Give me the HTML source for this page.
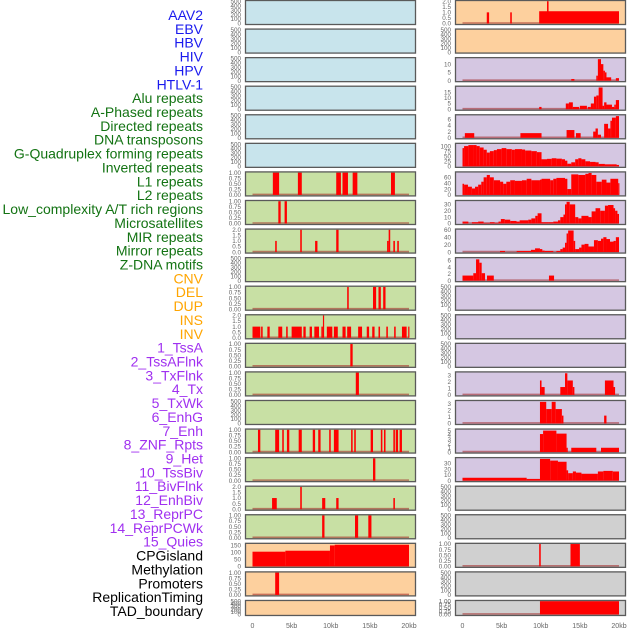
<!DOCTYPE html>
<html><head><meta charset="utf-8">
<style>
html,body{margin:0;padding:0;background:#fff;}
svg{display:block;font-family:"Liberation Sans",sans-serif;}
</style></head>
<body>
<svg id="chart" width="630" height="630" viewBox="0 0 630 630" xmlns="http://www.w3.org/2000/svg">
<g id="labels"></g>
<g id="panels"></g>
<g id="xaxes"></g>
</svg>
<script>
// ---- track labels ----
const trackNames = ["AAV2","EBV","HBV","HIV","HPV","HTLV-1","Alu repeats","A-Phased repeats","Directed repeats","DNA transposons","G-Quadruplex forming repeats","Inverted repeats","L1 repeats","L2 repeats","Low_complexity A/T rich regions","Microsatellites","MIR repeats","Mirror repeats","Z-DNA motifs","CNV","DEL","DUP","INS","INV","1_TssA","2_TssAFlnk","3_TxFlnk","4_Tx","5_TxWk","6_EnhG","7_Enh","8_ZNF_Rpts","9_Het","10_TssBiv","11_BivFlnk","12_EnhBiv","13_ReprPC","14_ReprPCWk","15_Quies","CPGisland","Methylation","Promoters","ReplicationTiming","TAD_boundary"];
const trackGroups = [6,13,5,15,5];
const groupColors = ["#1a1aee","#137313","#ffa500","#a030f0","#000000"];
const xTickVals = [0,5,10,15,20];
const xTickLabels = ["0","5kb","10kb","15kb","20kb"];

// ---- segment data [startKb, endKb, value] ----
const L7 = [[2.6,3.4,1],[5.8,6.3,1],[10.7,11.3,1],[11.5,12.2,1],[12.8,13.4,1],[17.7,18.2,1]];
const L8 = [[3.3,3.6,1],[4.1,4.4,1]];
const L9 = [[2.9,3.1,1],[6.1,6.3,2],[8.0,8.3,1],[10.7,11.0,2],[17.2,17.4,1],[17.4,17.6,2],[18.0,18.2,1],[18.5,18.7,1]];
const L11 = [[12.1,12.3,1],[15.4,15.8,1],[16.1,16.4,1],[16.7,17.0,1]];
const L12 = [[0,1.0,1],[1.1,1.3,1],[1.9,2.2,1],[3.3,3.8,1],[4.3,4.5,1],[5.0,6.3,1],[6.5,6.8,1],[7.3,7.6,1],[7.9,8.5,1],[8.8,9.0,1],[9.0,9.1,2],[9.5,10.2,1],[10.4,10.9,1],[11.5,11.9,1],[12.1,12.6,1],[13.5,14.0,1],[14.6,14.9,1],[15.3,15.6,1],[16.1,16.3,1],[17.1,17.3,1],[18.1,18.3,1],[19.1,19.7,1],[19.9,20.0,1]];
const L13 = [[12.5,12.8,1]];
const L14 = [[13.2,13.6,1]];
const L16 = [[0.7,1.0,1],[2.9,3.4,1],[3.8,4.0,1],[4.4,4.7,1],[5.9,6.3,1],[7.7,8.0,1],[8.4,8.7,1],[9.8,10.0,1],[10.4,11.0,1],[12.6,12.8,1],[13.0,13.2,1],[15.1,15.4,1],[16.4,16.6,1],[16.8,17.0,1],[18.0,18.2,1],[18.3,18.6,1],[18.8,19.1,1]];
const L17 = [[15.4,15.7,1]];
const L18 = [[2.5,3.1,1],[6.1,6.3,2],[8.9,9.3,1],[10.7,11.0,1],[18.0,18.2,1]];
const L19 = [[8.9,9.2,1],[13.1,13.5,1],[14.8,15.2,1]];
const L20 = [[0,4.2,105],[4.2,9.9,112],[9.9,10.5,150],[10.5,20.0,155]];
const L21 = [[2.9,3.4,1]];
const R1 = [[3.1,3.4,1],[6.1,6.3,1],[9.8,20.0,1.1],[10.8,11.0,2]];
const R3 = [[13.9,14.3,1],[17.1,17.3,3],[17.3,17.7,13],[17.7,18.0,10],[18.0,18.2,6],[18.2,18.4,5],[18.4,19.0,2],[19.6,20.0,1.5]];
const R4 = [[9.8,10.1,2],[13.2,13.6,5],[13.6,14.1,6],[14.1,14.9,2],[15.0,15.9,3],[16.0,16.4,2],[16.4,16.8,5],[16.8,17.1,11],[17.1,17.4,12],[17.4,17.9,19],[17.9,18.1,3],[18.1,18.4,6],[18.4,19.1,4],[19.1,19.4,2],[19.4,19.6,4],[19.6,20.0,8]];
const R5 = [[0.3,1.5,1.5],[7.4,10.1,1.5],[13.3,14.3,2.5],[14.5,15.1,1.5],[16.7,17.0,2],[17.0,17.3,3],[17.3,17.7,1],[18.1,18.6,4.5],[18.6,18.9,3],[18.9,19.1,5.5],[19.1,19.6,6.5],[19.6,20.0,7]];
const R9 = [[4.79,5.43,3],[6.92,8.75,3],[8.75,9.27,6],[9.27,9.9,10],[9.9,10.2,8],[10.2,10.5,4],[10.5,11.6,3],[12.0,12.5,3],[12.5,12.8,8],[12.8,13.1,12],[13.1,13.3,25],[13.3,13.5,50],[13.5,14.2,58],[14.2,14.4,30],[14.4,14.9,8],[14.9,15.2,12],[15.2,15.6,20],[15.6,16.1,22],[16.1,16.8,15],[16.8,17.3,32],[17.3,17.7,30],[17.7,18.0,36],[18.0,18.4,40],[18.4,18.85,35],[18.85,19.3,28],[19.3,19.6,30],[19.6,20.0,40]];
const R10 = [[0,1.38,1.5],[1.38,1.73,2.2],[1.73,2.15,6.3],[2.15,2.45,5.3],[2.45,2.88,2.2],[3.13,4.0,1.5],[11.05,11.7,1.5]];
const R14 = [[9.9,10.1,2.2],[10.1,10.5,1.2],[12.5,13.1,1.2],[13.1,13.4,3.3],[13.4,14.1,2.2],[14.1,14.3,1.2],[18.2,19.3,2.2],[19.3,19.5,1.2]];
const R15 = [[9.9,10.7,3.3],[10.7,11.4,2.2],[11.4,11.9,3.3],[11.9,12.7,2.2],[12.7,12.9,1.2],[18.1,18.4,1.2]];
const R16 = [[9.9,10.3,4.2],[10.3,12.0,5],[12.0,13.3,4.3],[13.3,13.4,1],[13.9,17.1,1],[17.7,20.0,1]];
const R17 = [[0,8.2,5],[8.2,9.9,3],[9.9,11.2,38],[11.2,12.2,35],[12.2,13.3,33],[13.3,13.5,18],[13.5,14.1,13],[14.1,14.5,16],[14.5,15.2,14],[15.2,17.3,12],[17.3,18.0,16],[18.0,19.2,17],[19.2,20.0,16]];
const R20 = [[9.8,10.0,1],[13.8,15.0,1]];
const R22 = [[9.9,20.0,1]];

// ---- step-series data [kb, value], each step runs to the next kb ----
const R6 = [[0,90],[0.2,100],[0.75,105],[1.4,105],[1.8,100],[2.2,93],[2.7,82],[3.1,68],[3.5,75],[4.0,80],[4.4,85],[5.0,90],[5.6,85],[6.3,82],[6.7,85],[7.6,83],[8.0,78],[8.8,75],[9.5,70],[9.9,70],[10.1,35],[10.8,37],[11.4,40],[12.0,38],[12.7,35],[13.1,28],[13.4,13],[13.9,20],[14.4,35],[14.8,40],[15.2,35],[15.7,25],[16.3,22],[17.0,20],[17.4,12],[18.2,10],[19.1,10],[19.7,7],[20.0,5]];
const R7 = [[0,38],[0.2,35],[0.7,28],[1.2,22],[1.6,28],[2.0,35],[2.4,45],[2.7,60],[3.1,68],[3.5,60],[4.0,50],[4.8,45],[5.2,38],[5.6,45],[6.1,50],[6.7,48],[7.6,50],[8.2,55],[8.8,50],[9.9,52],[10.1,55],[11.2,50],[11.6,55],[12.0,58],[13.1,55],[13.4,20],[13.9,70],[14.8,68],[15.7,72],[16.1,75],[16.5,68],[17.1,45],[17.8,52],[18.4,42],[18.9,55],[19.9,40],[20.0,40]];
const R8 = [[0,3],[0.75,0],[1.2,2],[2.0,3],[2.7,1],[3.5,2],[4.1,1],[4.6,3],[4.9,7],[5.4,6],[6.1,4],[6.9,3],[7.3,5],[8.4,6],[8.8,8],[9.3,12],[9.6,16],[10.1,2],[11.0,2],[11.6,3],[12.2,5],[12.5,10],[12.9,14],[13.1,30],[13.3,34],[13.7,30],[14.4,10],[14.8,8],[15.2,12],[16.1,10],[16.5,19],[17.0,24],[17.6,20],[18.2,28],[18.6,29],[19.3,24],[19.5,20],[19.8,15],[20.0,15]];

// ---- tick label sets ----
const t500Vals = [0,100,200,300,400,500], t500Labels = ["0","100","200","300","400","500"];
const t1Vals = [0,0.25,0.5,0.75,1], t1Labels = ["0.00","0.25","0.50","0.75","1.00"];
const t2Vals = [0,0.5,1,1.5,2], t2Labels = ["0.0","0.5","1.0","1.5","2.0"];

const BG = {blue:"#c8e4ec",green:"#c8e0a4",peach:"#fdd09e",purple:"#d5c7e2",grey:"#d0d0d0"};
// panel specs: column, row, background, y max, tick values, tick labels, segments, steps
const panels = [];
function P(col,row,bg,ymax,tv,tl,seg,step){panels.push({col,row,bg,ymax,tv,tl,seg,step});}
for(let r=0;r<6;r++) P(0,r,"blue",500,t500Vals,t500Labels,null,null);
P(0,6,"green",1,t1Vals,t1Labels,L7);
P(0,7,"green",1,t1Vals,t1Labels,L8);
P(0,8,"green",2,t2Vals,t2Labels,L9);
P(0,9,"green",500,t500Vals,t500Labels,null);
P(0,10,"green",1,t1Vals,t1Labels,L11);
P(0,11,"green",2,t2Vals,t2Labels,L12);
P(0,12,"green",1,t1Vals,t1Labels,L13);
P(0,13,"green",1,t1Vals,t1Labels,L14);
P(0,14,"green",500,t500Vals,t500Labels,null);
P(0,15,"green",1,t1Vals,t1Labels,L16);
P(0,16,"green",1,t1Vals,t1Labels,L17);
P(0,17,"green",2,t2Vals,t2Labels,L18);
P(0,18,"green",1,t1Vals,t1Labels,L19);
P(0,19,"peach",160,[0,50,100,150],["0","50","100","150"],L20);
P(0,20,"peach",1,t1Vals,t1Labels,L21);
P(0,21,"peach",500,t500Vals,t500Labels,null);
P(1,0,"peach",2,t2Vals,t2Labels,R1);
P(1,1,"peach",500,t500Vals,t500Labels,null);
P(1,2,"purple",13.5,[0,5,10],["0","5","10"],R3);
P(1,3,"purple",19.5,[0,5,10,15],["0","5","10","15"],R4);
P(1,4,"purple",7.2,[0,2,4,6],["0","2","4","6"],R5);
P(1,5,"purple",110,[0,25,50,75,100],["0","25","50","75","100"],null,R6);
P(1,6,"purple",76,[0,20,40,60],["0","20","40","60"],null,R7);
P(1,7,"purple",35,[0,10,20,30],["0","10","20","30"],null,R8);
P(1,8,"purple",60,[0,20,40,60],["0","20","40","60"],R9);
P(1,9,"purple",6.6,[0,2,4,6],["0","2","4","6"],R10);
P(1,10,"purple",500,t500Vals,t500Labels,null);
P(1,11,"purple",500,t500Vals,t500Labels,null);
P(1,12,"purple",500,t500Vals,t500Labels,null);
P(1,13,"purple",3.4,[0,1,2,3],["0","1","2","3"],R14);
P(1,14,"purple",3.4,[0,1,2,3],["0","1","2","3"],R15);
P(1,15,"purple",5.2,[0,1,2,3,4,5],["0","1","2","3","4","5"],R16);
P(1,16,"purple",39,[0,10,20,30],["0","10","20","30"],R17);
P(1,17,"grey",500,t500Vals,t500Labels,null);
P(1,18,"grey",500,t500Vals,t500Labels,null);
P(1,19,"grey",1,t1Vals,t1Labels,R20);
P(1,20,"grey",500,t500Vals,t500Labels,null);
P(1,21,"grey",1,t1Vals,t1Labels,R22);

const NS="http://www.w3.org/2000/svg";
function mk(tag,attrs,parent){const e=document.createElementNS(NS,tag);for(const k in attrs)e.setAttribute(k,attrs[k]);parent.appendChild(e);return e;}

// labels
const lg=document.getElementById("labels");
let gi=0,cnt=0;
trackNames.forEach((n,i)=>{
  while(cnt>=trackGroups[gi]){gi++;cnt=0;}
  cnt++;
  const t=mk("text",{x:203,y:15+i*13.86+5,"text-anchor":"end","font-size":"14",fill:groupColors[gi]},lg);
  t.textContent=n;
  
  
});

// geometry / axis functions
const colX=[245,455], panelW=171, rowPitch=28.57;
function xScale(col,kb){return (col===0?252.5:462.5)+kb*7.825;}
function rowTop(row){return row*rowPitch;}
function rowH(row){return row===21?16:25;}
function yScale(p,v){const t=rowTop(p.row),h=rowH(p.row);const y0=t+h-1.5,y1=t+1.2;return y0-(v/p.ymax)*(y0-y1);}

const pg=document.getElementById("panels");
panels.forEach(p=>{
  const g=mk("g",{},pg);
  
  
  const t=rowTop(p.row),h=rowH(p.row),x=colX[p.col];
  mk("rect",{x:x,y:t,width:panelW,height:h,fill:BG[p.bg]},g);
  // ticks
  p.tv.forEach((v,i)=>{
    const tx=mk("text",{x:x-4,y:yScale(p,v)+2.2,"text-anchor":"end","font-size":"6.3",fill:"#666"},g);
    tx.textContent=p.tl[i];
    
    
  });
  let segs=p.seg?p.seg.slice():null;
  if(p.step){segs=[];for(let i=0;i<p.step.length-1;i++)segs.push([p.step[i][0],p.step[i+1][0],p.step[i][1]]);}
  if(segs){
    const yz=yScale(p,0);
    const bl=mk("line",{x1:xScale(p.col,0),x2:xScale(p.col,20),y1:yz-0.5,y2:yz-0.5,stroke:"#a02020","stroke-opacity":"0.55","stroke-width":"1.6"},g);
    
    
    segs.forEach(s=>{
      const x0=xScale(p.col,s[0]),x1=xScale(p.col,s[1]);
      const yv=yScale(p,s[2]);
      const r=mk("rect",{x:x0,y:yv,width:Math.max(1.2,x1-x0),height:yz-yv,fill:"#ff0000"},g);
      
      
    });
  }
  mk("rect",{x:x+0.5,y:t+0.5,width:panelW-1,height:h-1,fill:"none",stroke:"#5a5a5a","stroke-width":"1.3"},g);
});

// x axes
const xg=document.getElementById("xaxes");
[0,1].forEach(c=>{
  xTickVals.forEach((v,i)=>{
    const tx=mk("text",{x:xScale(c,v),y:628,"text-anchor":"middle","font-size":"7",fill:"#666"},xg);
    tx.textContent=xTickLabels[i];
    
    
  });
});
</script>
</body></html>
